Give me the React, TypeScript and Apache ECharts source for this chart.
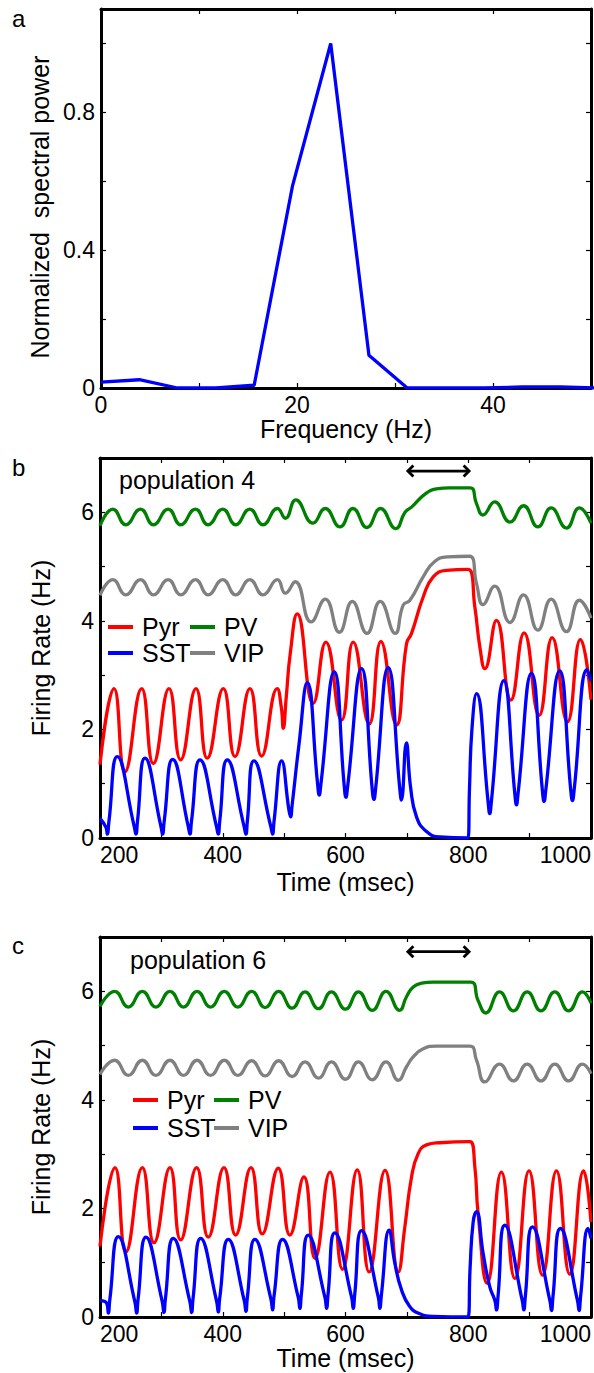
import React, { useEffect, useRef } from 'react';
import * as echarts from 'echarts';

const FONT = 'Liberation Sans, Arial, Helvetica, sans-serif';

// ---------- Panel a: spectrum ----------
const SPEC_FREQ = [0, 3.91, 7.81, 11.72, 15.63, 19.53, 23.44, 27.34, 31.25, 35.16, 39.06, 42.97, 46.88, 50.78];
const SPEC_POWER = [0.017, 0.024, 0.0, 0.0, 0.008, 0.585, 1.0, 0.095, 0.0, 0.0, 0.0, 0.003, 0.003, 0.0];
const SPEC_X_LABELS = [0, 20, 40];
const SPEC_Y_LABELS = [0, 0.4, 0.8];

// ---------- Panel b: population 4 ----------
const B_PYR = [
  [200, 1.35], [222.8, 2.75], [240.7, 1.22], [267.9, 2.75], [286.9, 1.37], [312.4, 2.75], [331.4, 1.44],
  [356.4, 2.75], [374.8, 1.47], [400.9, 2.75], [419.9, 1.5], [444.3, 2.75], [463.3, 1.51], [488.8, 2.75],
  [495.5, 2.4], [498.6, 2.02], [503.5, 2.6], [510, 3.4], [521.4, 4.13], [547.4, 2.48], [568, 3.61],
  [593.6, 2.17], [612.6, 3.61], [638.6, 2.1], [657.7, 3.62], [683, 2.08], [699.4, 3.58], [707.6, 3.77],
  [726.6, 4.44], [742.9, 4.81], [764.6, 4.93], [800, 4.95], [810.7, 4.26], [818.9, 3.52], [827, 3.12],
  [846, 4.01], [869.4, 2.54], [891, 3.78], [915.5, 2.26], [936.7, 3.69], [961.6, 2.14], [982.8, 3.66],
  [1000, 2.55],
];
const B_SST = [
  [200, 0.36], [209.5, 0.2], [212, 0.07], [214.5, 0.3], [228.2, 1.5], [256, 0.2], [258.6, 0.07],
  [261, 0.3], [273.3, 1.47], [299.5, 0.2], [302, 0.07], [304.5, 0.3], [318.4, 1.45], [344, 0.2],
  [346.6, 0.07], [349, 0.3], [362.9, 1.44], [390, 0.2], [392.7, 0.07], [395, 0.3], [407.4, 1.44],
  [435, 0.2], [437.8, 0.07], [440, 0.3], [450.8, 1.42], [478.5, 0.2], [481.2, 0.07], [483.5, 0.3],
  [495.9, 1.42], [508, 0.5], [510.5, 0.39], [513, 0.6], [524, 1.7], [537.7, 2.86], [554.5, 1.0],
  [557.2, 0.79], [560, 1.0], [581.7, 3.06], [598, 0.95], [600.7, 0.75], [603.5, 0.95], [626.2, 3.12],
  [643.5, 0.9], [646.3, 0.71], [649, 0.9], [669.6, 3.14], [688.5, 0.9], [691, 0.7], [699.2, 1.75],
  [706, 0.94], [715.7, 0.39], [732, 0.12], [753.7, 0.02], [799.5, 0], [802, 0.9], [806, 2.0],
  [813.4, 2.66], [832.5, 0.65], [835, 0.45], [837.5, 0.65], [858, 2.9], [876, 0.8], [878.6, 0.61],
  [881, 0.8], [903, 3.03], [921, 0.85], [923.6, 0.67], [926, 0.85], [949, 3.08], [967, 0.88],
  [969.8, 0.69], [972.5, 0.88], [993.7, 3.1], [1000, 2.9],
];
const B_PV = [
  [200, 5.75], [221, 6.06], [242, 5.77], [266, 6.06], [287, 5.77], [311, 6.06], [331.5, 5.77],
  [355.5, 6.06], [376, 5.77], [400, 6.06], [421, 5.77], [444, 6.06], [465.5, 5.77], [489, 6.07],
  [502, 5.89], [519, 6.23], [547, 5.8], [567, 6.07], [591, 5.73], [612, 6.07], [635, 5.72],
  [657, 6.07], [682, 5.7], [697, 6.0], [708, 6.1], [730, 6.34], [748, 6.43], [770, 6.45], [803, 6.45],
  [813.4, 6.16], [824, 5.95], [843, 6.19], [868, 5.82], [890, 6.12], [913.5, 5.73], [935, 6.08],
  [960, 5.71], [981, 6.08], [1000, 5.8],
];
const B_VIP = [
  [200, 4.47], [221, 4.76], [242, 4.48], [266, 4.76], [287, 4.48], [311, 4.76], [331.5, 4.48],
  [355.5, 4.76], [376, 4.48], [400, 4.76], [421, 4.48], [444, 4.76], [465.5, 4.48], [489, 4.76],
  [502, 4.51], [518, 4.72], [544, 3.98], [567, 4.4], [590, 3.79], [611, 4.36], [635, 3.77],
  [656.5, 4.36], [681, 3.77], [694, 4.29], [705, 4.38], [727, 4.82], [744, 5.08], [766, 5.18],
  [802, 5.19], [813.4, 4.69], [824, 4.3], [843, 4.64], [868, 3.97], [890, 4.48], [913.5, 3.83],
  [935, 4.4], [960, 3.8], [981, 4.38], [1000, 4.05],
];

// ---------- Panel c: population 6 ----------
const C_PYR = [
  [200, 1.3], [224.4, 2.75], [242.3, 1.2], [269, 2.75], [288, 1.37], [314, 2.75], [331.4, 1.42],
  [357.4, 2.75], [376.4, 1.47], [402, 2.75], [421, 1.51], [446, 2.75], [464.4, 1.53], [490.4, 2.74],
  [509.4, 1.51], [532.2, 2.58], [550.2, 1.08], [574.6, 2.67], [595.2, 0.88], [619.1, 2.71],
  [638.6, 0.83], [664.5, 2.7], [686, 0.83], [696.7, 1.66], [707.6, 2.58], [718.4, 3.01], [732, 3.17],
  [753.7, 3.21], [802.6, 3.23], [810.7, 2.77], [816, 1.91], [830.8, 0.62], [854, 2.67], [876, 0.71],
  [899, 2.69], [921, 0.77], [943.7, 2.69], [965.4, 0.79], [988, 2.69], [1000, 1.75],
];
const C_SST = [
  [200, 0.3], [211, 0.25], [213.6, 0.07], [216, 0.32], [229.9, 1.48], [257, 0.27], [259.7, 0.07],
  [262, 0.32], [274.9, 1.47], [301.5, 0.28], [304.2, 0.08], [306.5, 0.33], [319.4, 1.45],
  [346.5, 0.28], [349.3, 0.08], [351.5, 0.33], [364, 1.45], [390, 0.29], [392.7, 0.09], [395, 0.34],
  [409, 1.43], [435, 0.3], [437.8, 0.1], [440, 0.35], [452.4, 1.43], [478.5, 0.33], [481.2, 0.13],
  [483.5, 0.38], [497.5, 1.43], [523, 0.36], [525.7, 0.16], [528, 0.41], [539.3, 1.51],
  [566.5, 0.36], [569.2, 0.16], [571.5, 0.41], [582.7, 1.55], [610, 0.36], [612.6, 0.16],
  [615, 0.41], [626.2, 1.59], [653.5, 0.36], [656, 0.16], [658.5, 0.41], [671.2, 1.6], [680.4, 0.99],
  [691.3, 0.5], [704.9, 0.19], [721, 0.06], [742.9, 0.01], [799.5, 0], [803, 0.9], [808, 1.75],
  [813.4, 1.94], [824.3, 1.17], [835, 0.56], [843.5, 0.3], [846, 0.13], [848.5, 0.38], [859.6, 1.69],
  [888, 0.3], [890.5, 0.13], [893, 0.38], [904.6, 1.66], [933, 0.3], [935.6, 0.12], [938, 0.37],
  [950.2, 1.63], [978, 0.3], [980.6, 0.12], [983, 0.37], [995.3, 1.63], [1000, 1.45],
];
const C_PV = [
  [200, 5.72], [224, 6.0], [246, 5.71], [269, 6.0], [291, 5.71], [314, 6.0], [336, 5.71], [358, 6.0],
  [380, 5.71], [402.5, 6.0], [424.5, 5.71], [447, 6.0], [469, 5.7], [491, 6.0], [513, 5.69],
  [534, 5.99], [556, 5.68], [577, 5.99], [600, 5.67], [621, 5.99], [643.5, 5.65], [666, 6.0],
  [688, 5.65], [699.4, 5.9], [710.3, 6.08], [724, 6.15], [743, 6.17], [803.7, 6.17], [816, 5.83],
  [828.6, 5.6], [851, 5.99], [873.5, 5.64], [896, 5.99], [918.5, 5.64], [941, 5.99], [963.5, 5.64],
  [986, 5.99], [1000, 5.78],
];
const C_VIP = [
  [200, 4.47], [224, 4.73], [246, 4.45], [269, 4.73], [291, 4.45], [314, 4.73], [336, 4.45],
  [358, 4.73], [380, 4.45], [402.5, 4.73], [424.5, 4.45], [447, 4.72], [469, 4.44], [491, 4.72],
  [513, 4.43], [534, 4.7], [556, 4.4], [577, 4.7], [600, 4.38], [621, 4.7], [643.5, 4.37], [666, 4.7],
  [686, 4.36], [699.4, 4.61], [710.3, 4.79], [726.6, 4.94], [748.3, 4.99], [802.6, 4.99],
  [813.4, 4.73], [827, 4.33], [851, 4.66], [873.5, 4.35], [896, 4.66], [918.5, 4.35], [941, 4.66],
  [963.5, 4.35], [986, 4.66], [1000, 4.48],
];

const TIME_LABELS = [200, 400, 600, 800, 1000];
const RATE_LABELS = [0, 2, 4, 6];
// stimulus window [start, end, height]
const STIM_B = [[700, 803, 6.76]];
const STIM_C = [[700, 803, 6.73]];

const COLORS: Record<string, string> = { Pyr: '#ff0000', PV: '#008000', SST: '#0000ff', VIP: '#808080' };

function labelFmt(list: number[]) {
  return (v: number) => {
    const m = list.find((l) => Math.abs(l - v) < 1e-6);
    return m === undefined ? '' : String(m);
  };
}

const axisLine = { show: true, onZero: false, lineStyle: { color: '#000', width: 3 } };
const axisTick = { show: true, inside: true, length: 5, lineStyle: { color: '#000', width: 1.2 } };
const noSplit = { show: false };
const tickLabel = { color: '#000', fontSize: 23, fontFamily: FONT };
const nameStyle = { color: '#000', fontSize: 25, fontFamily: FONT };
const LW = 3.3;

function lineSeries(name: string, data: number[][], idx: number) {
  return {
    type: 'line',
    name,
    data,
    xAxisIndex: idx,
    yAxisIndex: idx,
    showSymbol: false,
    symbol: 'none',
    smooth: 0.5,
    color: COLORS[name],
    lineStyle: { color: COLORS[name], width: LW },
    z: 3,
  };
}

function arrowSeries(data: number[][], idx: number) {
  return {
    type: 'custom',
    xAxisIndex: idx,
    yAxisIndex: idx,
    data,
    encode: { x: [0, 1], y: 2 },
    clip: false,
    z: 5,
    renderItem: (params: any, api: any) => {
      const a = api.coord([api.value(0), api.value(2)]);
      const b = api.coord([api.value(1), api.value(2)]);
      const w = 6.5;
      const h = 5.5;
      const st = { stroke: '#000', lineWidth: 2.8, fill: null, lineJoin: 'miter' };
      return {
        type: 'group',
        children: [
          { type: 'line', shape: { x1: a[0] + 1, y1: a[1], x2: b[0] - 1, y2: b[1] }, style: st },
          { type: 'polyline', shape: { points: [[a[0] + w, a[1] - h], [a[0] + 1, a[1]], [a[0] + w, a[1] + h]] }, style: st },
          { type: 'polyline', shape: { points: [[b[0] - w, b[1] - h], [b[0] - 1, b[1]], [b[0] - w, b[1] + h]] }, style: st },
        ],
      };
    },
  };
}

function legendCol(names: string[], left: number, top: number, lh: number) {
  return {
    data: names,
    orient: 'vertical',
    left,
    top,
    padding: 0,
    itemGap: 0,
    itemWidth: 25,
    itemHeight: 4,
    icon: 'rect',
    selectedMode: false,
    textStyle: { color: '#000', fontSize: 25, lineHeight: lh, fontFamily: FONT, padding: [0, 0, 0, 4] },
  };
}

export default function App() {
  const ref = useRef<HTMLDivElement>(null);
  useEffect(() => {
    if (!ref.current) return;
    const chart = echarts.init(ref.current, undefined, { renderer: 'svg' });
    const timeX = (grid: number, gap: number) => ({
      gridIndex: grid, type: 'value', min: 200, max: 1000, interval: 100, position: 'bottom',
      axisLine, axisTick, splitLine: noSplit,
      axisLabel: { ...tickLabel, margin: 5, formatter: labelFmt(TIME_LABELS), alignMinLabel: 'left', alignMaxLabel: 'right' },
      name: 'Time (msec)', nameLocation: 'middle', nameGap: gap, nameTextStyle: nameStyle,
    });
    const topX = (grid: number, min: number, max: number, interval: number) => ({
      gridIndex: grid, type: 'value', min, max, interval, position: 'top',
      axisLine, axisTick, splitLine: noSplit, axisLabel: { show: false },
    });
    const rateY = (grid: number) => ({
      gridIndex: grid, type: 'value', min: 0, max: 7, interval: 1, position: 'left',
      axisLine, axisTick, splitLine: noSplit,
      axisLabel: { ...tickLabel, margin: 6, formatter: labelFmt(RATE_LABELS) },
      name: 'Firing Rate (Hz)', nameLocation: 'middle', nameGap: 47, nameRotate: 90, nameTextStyle: nameStyle,
    });
    const rightY = (grid: number, min: number, max: number, interval: number) => ({
      gridIndex: grid, type: 'value', min, max, interval, position: 'right',
      axisLine, axisTick, splitLine: noSplit, axisLabel: { show: false },
    });

    chart.setOption({
      animation: false,
      backgroundColor: '#fff',
      textStyle: { fontFamily: FONT },
      grid: [
        { left: 101, top: 9, width: 490, height: 379 },
        { left: 100, top: 458, width: 491, height: 380 },
        { left: 100, top: 937, width: 491, height: 380 },
      ],
      xAxis: [
        {
          gridIndex: 0, type: 'value', min: 0, max: 50, interval: 10, position: 'bottom',
          axisLine, axisTick, splitLine: noSplit,
          axisLabel: { ...tickLabel, margin: 5, formatter: labelFmt(SPEC_X_LABELS) },
          name: 'Frequency (Hz)', nameLocation: 'middle', nameGap: 19, nameTextStyle: nameStyle,
        },
        topX(0, 0, 50, 10),
        timeX(1, 31),
        topX(1, 200, 1000, 100),
        timeX(2, 28),
        topX(2, 200, 1000, 100),
      ],
      yAxis: [
        {
          gridIndex: 0, type: 'value', min: 0, max: 1.1, interval: 0.2, position: 'left',
          axisLine, axisTick, splitLine: noSplit,
          axisLabel: { ...tickLabel, margin: 6, formatter: labelFmt(SPEC_Y_LABELS) },
          name: 'Normalized  spectral power', nameLocation: 'middle', nameGap: 48, nameRotate: 90,
          nameTextStyle: { ...nameStyle, padding: [0, 17, 0, 0] },
        },
        rightY(0, 0, 1.1, 0.2),
        rateY(1),
        rightY(1, 0, 7, 1),
        rateY(2),
        rightY(2, 0, 7, 1),
      ],
      legend: [
        legendCol(['Pyr', 'SST'], 108, 614, 26),
        legendCol(['PV', 'VIP'], 190, 614, 26),
        legendCol(['Pyr', 'SST'], 133, 1086, 28),
        legendCol(['PV', 'VIP'], 214, 1086, 28),
      ],
      graphic: [
        { type: 'text', left: 12, top: 6, style: { text: 'a', fontSize: 24, fontFamily: FONT, fill: '#000' } },
        { type: 'text', left: 12, top: 455, style: { text: 'b', fontSize: 24, fontFamily: FONT, fill: '#000' } },
        { type: 'text', left: 12, top: 933, style: { text: 'c', fontSize: 24, fontFamily: FONT, fill: '#000' } },
        { type: 'text', left: 119, top: 467, style: { text: 'population 4', fontSize: 25, fontFamily: FONT, fill: '#000' } },
        { type: 'text', left: 130, top: 947, style: { text: 'population 6', fontSize: 25, fontFamily: FONT, fill: '#000' } },
      ],
      series: [
        {
          type: 'line', name: 'spectrum', data: SPEC_FREQ.map((f, i) => [f, SPEC_POWER[i]]),
          xAxisIndex: 0, yAxisIndex: 0, showSymbol: false, symbol: 'none',
          color: '#0000ff', lineStyle: { color: '#0000ff', width: LW }, z: 3,
        },
        lineSeries('Pyr', B_PYR, 2),
        lineSeries('SST', B_SST, 2),
        lineSeries('PV', B_PV, 2),
        lineSeries('VIP', B_VIP, 2),
        arrowSeries(STIM_B, 2),
        lineSeries('Pyr', C_PYR, 4),
        lineSeries('SST', C_SST, 4),
        lineSeries('PV', C_PV, 4),
        lineSeries('VIP', C_VIP, 4),
        arrowSeries(STIM_C, 4),
      ],
    });
    return () => chart.dispose();
  }, []);
  return <div ref={ref} style={{ position: 'absolute', left: 0, top: 0, width: 594, height: 1373 }} />;
}
